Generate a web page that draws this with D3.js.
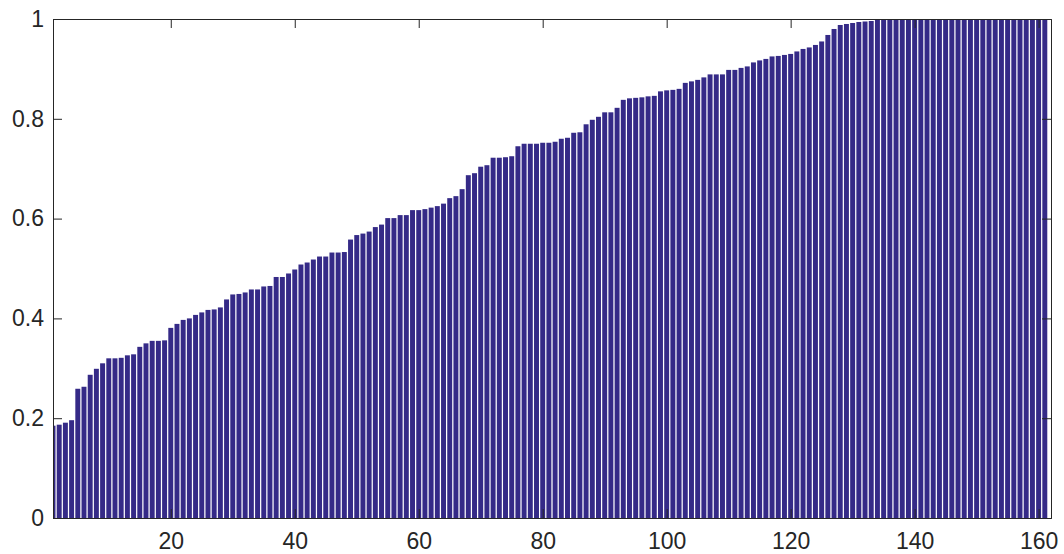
<!DOCTYPE html>
<html>
<head>
<meta charset="utf-8">
<script src="https://cdn.jsdelivr.net/npm/d3@7"></script>
<style>
  html, body { margin: 0; padding: 0; background: #fff; }
  svg { display: block; }
  text { font-family: "Liberation Sans", Arial, Helvetica, sans-serif; }
</style>
</head>
<body>
<svg id="chart" width="1064" height="554"></svg>
<script>
// ---- data ----
const values = [
  0.185, 0.187, 0.191, 0.196, 0.259, 0.263, 0.287, 0.299, 0.310, 0.320,
  0.320, 0.321, 0.326, 0.328, 0.343, 0.350, 0.355, 0.355, 0.356, 0.381,
  0.389, 0.397, 0.400, 0.407, 0.412, 0.417, 0.418, 0.422, 0.438, 0.448,
  0.449, 0.452, 0.458, 0.458, 0.464, 0.465, 0.483, 0.483, 0.490, 0.498,
  0.508, 0.512, 0.518, 0.524, 0.524, 0.532, 0.532, 0.533, 0.558, 0.567,
  0.570, 0.574, 0.583, 0.588, 0.601, 0.601, 0.607, 0.607, 0.617, 0.617,
  0.619, 0.622, 0.625, 0.630, 0.641, 0.645, 0.659, 0.687, 0.691, 0.704,
  0.707, 0.722, 0.722, 0.723, 0.725, 0.745, 0.750, 0.750, 0.750, 0.752,
  0.752, 0.754, 0.760, 0.762, 0.772, 0.773, 0.789, 0.798, 0.804, 0.813,
  0.813, 0.822, 0.838, 0.841, 0.842, 0.843, 0.845, 0.846, 0.855, 0.857,
  0.858, 0.860, 0.872, 0.875, 0.878, 0.883, 0.889, 0.889, 0.889, 0.898,
  0.898, 0.902, 0.905, 0.913, 0.917, 0.920, 0.925, 0.926, 0.928, 0.930,
  0.935, 0.940, 0.943, 0.948, 0.955, 0.968, 0.980, 0.988, 0.990, 0.992,
  0.994, 0.995, 0.996, 1, 1, 1, 1, 1, 1, 1,
  1, 1, 1, 1, 1, 1, 1, 1, 1, 1,
  1, 1, 1, 1, 1, 1, 1, 1, 1, 1,
  1
];
const categories = values.map((v, i) => i + 1);
const xTicks = [20, 40, 60, 80, 100, 120, 140, 160];
const yTicks = [0, 0.2, 0.4, 0.6, 0.8, 1];
const yTickLabels = ["0", "0.2", "0.4", "0.6", "0.8", "1"];
const xDomain = [1, 162];
const yDomain = [0, 1];

// ---- layout ----
const mLeft = 53, mRight = 1051, mTop = 19, mBottom = 518;
const barColor = "rgb(53,42,135)";
const axisColor = "#262626";
const barWidth = 0.8;
const tickLen = 9;

const svg = d3.select("#chart");
const x = d3.scaleLinear().domain(xDomain).range([mLeft, mRight]);
const y = d3.scaleLinear().domain(yDomain).range([mBottom, mTop]);

svg.append("defs").append("clipPath").attr("id", "plotclip")
  .append("rect").attr("x", mLeft).attr("y", mTop)
  .attr("width", mRight - mLeft).attr("height", mBottom - mTop);

svg.append("g").attr("clip-path", "url(#plotclip)")
  .selectAll("rect").data(categories).join("rect")
  .attr("x", d => x(d - barWidth / 2))
  .attr("width", d => x(d + barWidth / 2) - x(d - barWidth / 2))
  .attr("y", (d, i) => y(values[i]))
  .attr("height", (d, i) => y(0) - y(values[i]))
  .attr("fill", barColor);

// axes (MATLAB-like: inward ticks, box)
const fontSize = 23;
const gx = svg.append("g").attr("transform", `translate(0,${mBottom})`)
  .call(d3.axisBottom(x).tickValues(xTicks).tickSize(-tickLen).tickPadding(15).tickFormat(d3.format("d")));
const gxTop = svg.append("g").attr("transform", `translate(0,${mTop})`)
  .call(d3.axisTop(x).tickValues(xTicks).tickSize(-tickLen).tickFormat(""));
const gy = svg.append("g").attr("transform", `translate(${mLeft},0)`)
  .call(d3.axisLeft(y).tickValues(yTicks).tickSize(-tickLen).tickPadding(9)
    .tickFormat((d, i) => yTickLabels[i]));
const gyRight = svg.append("g").attr("transform", `translate(${mRight},0)`)
  .call(d3.axisRight(y).tickValues(yTicks).tickSize(-tickLen).tickFormat(""));

[gx, gxTop, gy, gyRight].forEach(g => {
  g.select(".domain").attr("stroke", axisColor).attr("stroke-width", 1);
  g.selectAll(".tick line").attr("stroke", axisColor).attr("stroke-width", 1);
  g.selectAll("text").attr("fill", "#262626").style("font-size", fontSize + "px")
    .style("font-family", "'Liberation Sans', Arial, Helvetica, sans-serif");
});
</script>
</body>
</html>
